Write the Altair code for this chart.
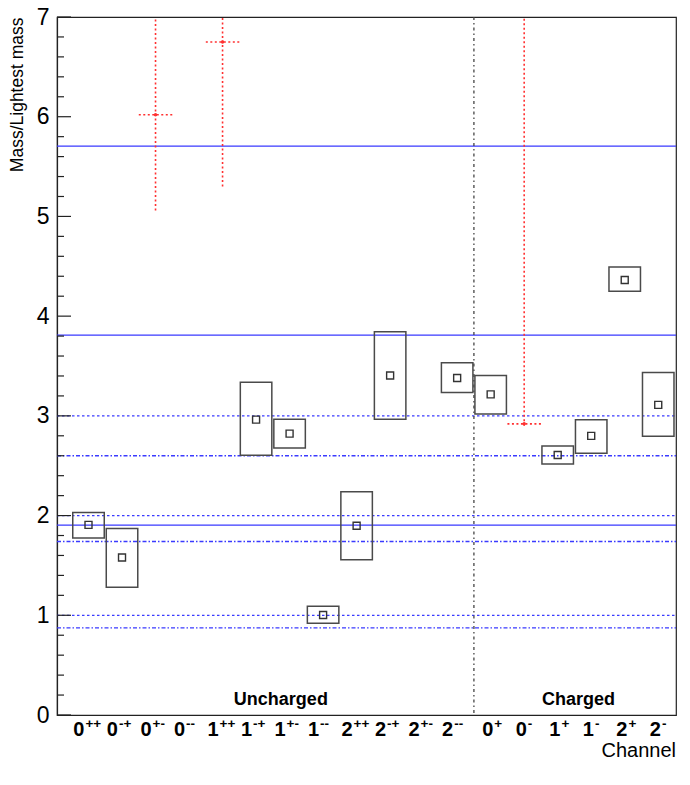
import altair as alt
import pandas as pd

# ---------------- data ----------------
channels = ["0++", "0-+", "0+-", "0--", "1++", "1-+", "1+-", "1--",
            "2++", "2-+", "2+-", "2--", "0+", "0-", "1+", "1-", "2+", "2-"]

box_idx = [0, 1, 5, 6, 7, 8, 9, 11, 12, 14, 15, 16, 17]
box_val = [1.907, 1.580, 2.962, 2.822, 1.003, 1.898, 3.405, 3.379, 3.215, 2.608, 2.799, 4.362, 3.110]
box_lo = [1.776, 1.281, 2.605, 2.677, 0.921, 1.556, 2.966, 3.235, 3.018, 2.517, 2.625, 4.250, 2.795]
box_hi = [2.032, 1.871, 3.336, 2.966, 1.091, 2.239, 3.844, 3.533, 3.405, 2.697, 2.962, 4.493, 3.434]

red_idx = [2, 4, 13]
red_val = [6.02, 6.75, 2.92]
red_lo = [5.06, 5.30, 2.90]
red_hi = [7.0, 7.0, 7.0]

solid_lines = [1.905, 3.81, 5.705]
dashed_lines = [1.0, 2.0, 3.0]
dashdot_lines = [0.873, 1.74, 2.6]

divider = [11.5]
group_labels = ["Uncharged", "Charged"]
group_x = [5.74, 14.62]
group_y = [0.15, 0.15]

y_major = [0, 1, 2, 3, 4, 5, 6, 7]
y_minor = [round(i * 0.2, 1) for i in range(36) if i % 5 != 0]

x_title = "Channel"
y_title = "Mass/Lightest mass"

# ---------------- frames ----------------
W, H = 619, 698
FONT = "Liberation Sans"

boxes = pd.DataFrame({"i": box_idx, "v": box_val, "lo": box_lo, "hi": box_hi})
reds = pd.DataFrame({"i": red_idx, "v": red_val, "lo": red_lo, "hi": red_hi})
hl = pd.DataFrame({
    "v": solid_lines + dashed_lines + dashdot_lines,
    "s": ["solid"] * len(solid_lines) + ["dashed"] * len(dashed_lines) + ["dashdot"] * len(dashdot_lines),
})
labels = pd.DataFrame({"i": list(range(len(channels))),
                       "base": [c[0] for c in channels],
                       "sup": [c[1:] for c in channels]})
groups = pd.DataFrame({"t": group_labels, "x": group_x, "y": group_y})
div = pd.DataFrame({"d": divider})
majors = pd.DataFrame({"v": y_major})
minors = pd.DataFrame({"v": y_minor})
xt = pd.DataFrame({"t": [x_title]})

xscale = alt.Scale(domain=[-0.94, 17.53], nice=False, zero=False)
yscale = alt.Scale(domain=[0, 7], nice=False, zero=True)
xaxis = alt.Axis(title=None, labels=False, ticks=False, domain=False, grid=False)
yaxis = alt.Axis(title=y_title, values=y_major, ticks=False, grid=False,
                 domain=True, domainColor="#222", domainWidth=1.2,
                 labelFont=FONT, labelFontSize=23, labelPadding=8, labelColor="black",
                 titleFont=FONT, titleFontSize=17.5, titleFontWeight="normal", titleColor="black",
                 titleX=-40, titleY=0, titleAlign="right", titleAngle=270, titleBaseline="middle")


def X(f, **kw):
    return alt.X(f, type="quantitative", scale=xscale, axis=xaxis, **kw)


def Y(f, **kw):
    return alt.Y(f, type="quantitative", scale=yscale, axis=yaxis, **kw)


box_layer = alt.Chart(boxes).transform_calculate(
    x0="datum.i - 0.47", x1="datum.i + 0.47"
).mark_rect(fill=None, stroke="#4a4a4a", strokeWidth=1.5).encode(
    x=X("x0"), x2="x1", y=Y("lo"), y2="hi")

marker_layer = alt.Chart(boxes).mark_point(shape="square", filled=False, size=49,
                                           color="#333", strokeWidth=1.4, opacity=1).encode(
    x=X("i"), y=Y("v"))

hline_layer = alt.Chart(hl).mark_rule(color="#3a3aff", strokeWidth=1.3).encode(
    y=Y("v"), x=alt.value(0), x2=alt.value(W),
    strokeDash=alt.StrokeDash("s:N", scale=alt.Scale(domain=["solid", "dashed", "dashdot"],
                                                     range=[[1, 0], [2.5, 2.5], [4, 2, 1.5, 2]]),
                              legend=None))

div_layer = alt.Chart(div).mark_rule(color="#444", strokeWidth=1.3, strokeDash=[3, 3, 1.5, 3]).encode(
    x=X("d"), y=alt.value(0), y2=alt.value(H))

red_v = alt.Chart(reds).mark_rule(color="#ff3030", strokeWidth=1.6, strokeDash=[2, 2.5]).encode(
    x=X("i"), y=Y("lo"), y2="hi")
red_h = alt.Chart(reds).transform_calculate(
    x0="datum.i - 0.5", x1="datum.i + 0.5"
).mark_rule(color="#ff3030", strokeWidth=1.6, strokeDash=[2, 2.5]).encode(
    x=X("x0"), x2="x1", y=Y("v"))
red_p = alt.Chart(reds).mark_point(shape="circle", filled=True, size=12, color="#ff3030",
                                   opacity=1).encode(x=X("i"), y=Y("v"))

tick_major = alt.Chart(majors).mark_rule(color="#222", strokeWidth=1.2).encode(
    y=Y("v"), x=alt.value(0), x2=alt.value(14))
tick_minor = alt.Chart(minors).mark_rule(color="#222", strokeWidth=1.2).encode(
    y=Y("v"), x=alt.value(0), x2=alt.value(7))

lab = alt.Chart(labels).transform_calculate(
    jx="datum.i + (length(datum.sup) == 2 ? -0.12 : 0.08)")
lab_base = lab.mark_text(font=FONT, fontSize=20, fontWeight="bold", align="right",
                         baseline="alphabetic", color="black").encode(
    x=X("jx"), y=alt.value(H + 21), text="base:N")
lab_sup = lab.mark_text(font=FONT, fontSize=13.5, fontWeight="bold", align="left", dx=1,
                        baseline="alphabetic", color="black").encode(
    x=X("jx"), y=alt.value(H + 13), text="sup:N")

grp = alt.Chart(groups).mark_text(font=FONT, fontSize=18, fontWeight="bold",
                                  baseline="middle", align="center", color="black").encode(
    x=X("x"), y=Y("y"), text="t:N")

xtitle = alt.Chart(xt).mark_text(font=FONT, fontSize=20, align="right", baseline="alphabetic",
                                 color="black").encode(
    x=alt.value(W), y=alt.value(H + 42), text="t:N")

chart = alt.layer(
    hline_layer, div_layer, box_layer, marker_layer, red_v, red_h, red_p,
    tick_major, tick_minor, lab_base, lab_sup, grp, xtitle
).properties(
    width=W, height=H,
    autosize=alt.AutoSizeParams(type="none"),
    padding={"left": 49, "top": 9, "right": 1, "bottom": 45},
    background="white",
).configure_view(stroke="#222", strokeWidth=1.2)

chart.save("out.html", embed_options={"renderer": "svg", "actions": False})
